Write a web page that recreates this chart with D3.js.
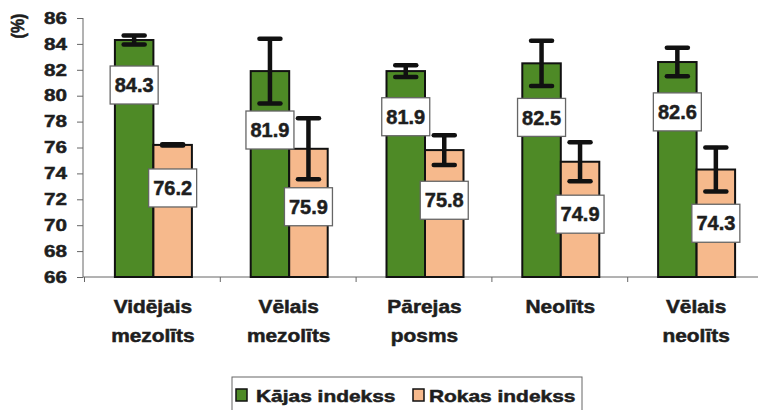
<!DOCTYPE html>
<html>
<head>
<meta charset="utf-8">
<script src="https://cdn.jsdelivr.net/npm/d3@7"></script>
<style>
  body { margin: 0; background: #fff; }
  svg { display: block; }
  text { font-family: "Liberation Sans", Arial, sans-serif; font-weight: bold; fill: #1e1e1e; stroke: #1e1e1e; stroke-width: 0.5px; }
</style>
</head>
<body>
<div id="chart"></div>
<script>
// data
const categories = [["Vidējais", "mezolīts"], ["Vēlais", "mezolīts"], ["Pārejas", "posms"], ["Neolīts"], ["Vēlais", "neolīts"]];
const seriesNames = ["Kājas indekss", "Rokas indekss"];
const kajas = [84.3, 81.9, 81.9, 82.5, 82.6];
const rokas = [76.2, 75.9, 75.8, 74.9, 74.3];
const kajasErr = [0.35, 2.5, 0.45, 1.75, 1.1];
const rokasErr = [0.05, 2.35, 1.15, 1.5, 1.7];
const yTicks = [66, 68, 70, 72, 74, 76, 78, 80, 82, 84, 86];

const width = 758, height = 410;
const colors = ["#4e8a26", "#f6b98c"];
const barW = 38.5;

const svg = d3.select('#chart').append('svg')
    .attr('width', width)
    .attr('height', height);

//scales
const x0 = d3.scaleBand()
    .domain(d3.range(categories.length))
    .range([84, 763]);
const x1 = d3.scaleBand()
    .domain([0, 1])
    .range([-barW, barW]);
const y = d3.scaleLinear()
    .domain([66, 86])
    .range([277, 18]);

//y axis
const yAxis = svg.append('g')
    .attr('transform', 'translate(83,0)')
    .call(d3.axisLeft(y).tickValues(yTicks).tickSize(6).tickPadding(10));
yAxis.select('.domain').attr('stroke', '#666').attr('d', `M0,${y(86)}V${y(66)}`);
yAxis.selectAll('.tick line').attr('stroke', '#666');
yAxis.selectAll('text')
    .attr('x', -16 / 1.25)
    .attr('transform', 'scale(1.25,1)')
    .style('font-size', '16.5px');

svg.append('text')
    .text('(%)')
    .attr('transform', `translate(24, 26) rotate(-90) scale(1, 1.2)`)
    .attr('text-anchor', 'middle')
    .style('font-size', '16px');

//x axis, ticks on the category boundaries
const xb = d3.scaleLinear().domain([0, categories.length]).range(x0.range());
const xAxis = svg.append('g')
    .attr('transform', `translate(0,${y(66)})`)
    .call(d3.axisBottom(xb).tickValues(d3.range(categories.length + 1)).tickSize(5).tickFormat(''));
xAxis.select('.domain').attr('stroke', '#666').attr('d', `M83,0H${width}`);
xAxis.selectAll('.tick line').attr('stroke', '#666');

//category labels
const catText = svg.append('g').selectAll('text')
    .data(categories)
    .enter().append('text')
    .attr('transform', (d, i) => `translate(${x0(i) + x0.bandwidth() / 2 + 1},313) scale(1.16,1)`)
    .attr('text-anchor', 'middle')
    .style('font-size', '18px');
catText.selectAll('tspan')
    .data((d) => d)
    .enter().append('tspan')
    .attr('x', 0)
    .attr('dy', (d, i) => i === 0 ? 0 : 29)
    .text((d) => d);

//bars
const rows = [];
kajas.forEach((v, i) => rows.push({cat: i, s: 0, v: v, err: kajasErr[i]}));
rokas.forEach((v, i) => rows.push({cat: i, s: 1, v: v, err: rokasErr[i]}));
const cx = (d) => x0(d.cat) + x0.bandwidth() / 2 + 1.5 + x1(d.s) + barW / 2;

svg.append('g').selectAll('rect')
    .data(rows)
    .enter().append('rect')
    .attr('x', (d) => cx(d) - barW / 2)
    .attr('y', (d) => y(d.v))
    .attr('width', barW)
    .attr('height', (d) => y(66) - y(d.v))
    .attr('fill', (d) => colors[d.s])
    .attr('stroke', '#111')
    .attr('stroke-width', 2);

//error bars
const eb = svg.append('g').selectAll('g')
    .data(rows)
    .enter().append('g')
    .attr('stroke', '#111');
eb.append('line')
    .attr('x1', cx).attr('x2', cx)
    .attr('y1', (d) => y(d.v + d.err))
    .attr('y2', (d) => y(d.v - d.err))
    .attr('stroke-width', 4.5);
[1, -1].forEach((sign) => {
    eb.append('line')
        .attr('x1', (d) => cx(d) - 10.5).attr('x2', (d) => cx(d) + 10.5)
        .attr('y1', (d) => y(d.v + sign * d.err))
        .attr('y2', (d) => y(d.v + sign * d.err))
        .attr('stroke-width', 4.5)
        .attr('stroke-linecap', 'round');
});

//value labels
const lab = svg.append('g').selectAll('g')
    .data(rows)
    .enter().append('g')
    .attr('transform', (d) => `translate(${cx(d)},${y(d.v - 3.3 - 0.5 * d.err)})`);
lab.append('rect')
    .attr('x', -24).attr('y', -19)
    .attr('width', 48).attr('height', 38)
    .attr('fill', '#fff')
    .attr('stroke', '#666')
    .attr('stroke-width', 1.3);
lab.append('text')
    .text((d) => d.v.toFixed(1))
    .attr('text-anchor', 'middle')
    .attr('dy', '0.36em')
    .style('font-size', '20px');

//legend
const legend = svg.append('g');
legend.append('rect')
    .attr('x', 232).attr('y', 377)
    .attr('width', 350).attr('height', 40)
    .attr('fill', '#fff')
    .attr('stroke', '#666')
    .attr('stroke-width', 1);
const legX = [236, 413];
const item = legend.selectAll('.item')
    .data(seriesNames)
    .enter().append('g')
    .attr('class', 'item');
item.append('rect')
    .attr('x', (d, i) => legX[i]).attr('y', 389)
    .attr('width', 11).attr('height', 12)
    .attr('fill', (d, i) => colors[i])
    .attr('stroke', '#111')
    .attr('stroke-width', 1.5);
item.append('text')
    .text((d) => d)
    .attr('transform', (d, i) => `translate(${legX[i] + (i === 0 ? 20 : 16)},402) scale(1.23,1)`)
    .style('font-size', '17px');
</script>
</body>
</html>
